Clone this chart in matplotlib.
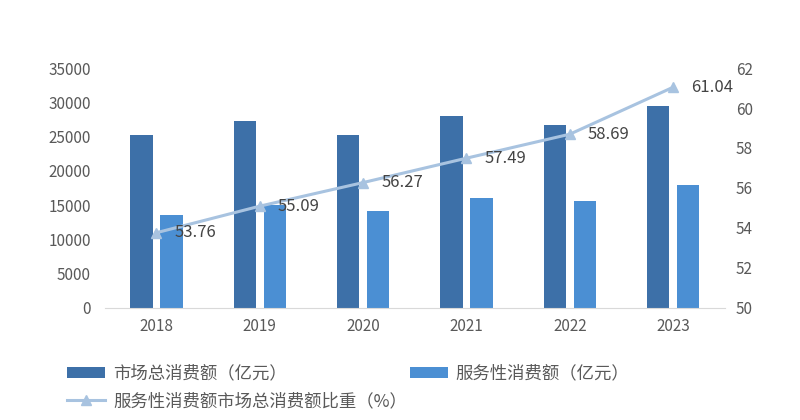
import matplotlib
matplotlib.use("Agg")
import matplotlib.pyplot as plt
import numpy as np

plt.rcParams['font.family'] = ['Noto Sans CJK SC', 'DejaVu Sans']

years = ["2018", "2019", "2020", "2021", "2022", "2023"]
total = [25200, 27200, 25200, 28000, 26700, 29400]
service = [13500, 15000, 14200, 16100, 15600, 17900]
share = [53.76, 55.09, 56.27, 57.49, 58.69, 61.04]

c_dark = "#3d70a8"
c_light = "#4b8fd3"
c_line = "#a8c3e0"
c_text = "#595959"

fig = plt.figure(figsize=(8, 4.2), dpi=100)
ax = fig.add_axes([0.131, 0.267, 0.775, 0.571])
ax2 = ax.twinx()

x = np.arange(len(years))
w = 0.215
b1 = ax.bar(x - 0.145, total, w, color=c_dark, label="市场总消费额（亿元）")
b2 = ax.bar(x + 0.145, service, w, color=c_light, label="服务性消费额（亿元）")
ln, = ax2.plot(x, share, color=c_line, lw=2.2, marker="^", ms=7,
               label="服务性消费额市场总消费额比重（%）")
for xi, v in zip(x, share):
    ax2.annotate(f"{v:.2f}", (xi, v), xytext=(13, 0), textcoords="offset points",
                 va="center", ha="left", fontsize=12, color="#444444")

ax.set_xlim(-0.5, len(years) - 0.5)
ax.set_ylim(0, 35000)
ax.set_yticks(range(0, 35001, 5000))
ax2.set_ylim(50, 62)
ax2.set_yticks(range(50, 63, 2))
ax.set_xticks(x)
ax.set_xticklabels(years)

for a in (ax, ax2):
    for s in a.spines.values():
        s.set_visible(False)
    a.tick_params(length=0, labelsize=11, colors=c_text)
ax.spines["bottom"].set_visible(True)
ax.spines["bottom"].set_color("#d9d9d9")
ax.tick_params(axis="y", pad=10)
ax.tick_params(axis="x", pad=7)
ax2.tick_params(axis="y", pad=8)

fig.legend([b1, ln, b2], [b1.get_label(), ln.get_label(), b2.get_label()],
           ncol=2, loc="upper left", bbox_to_anchor=(0.084, 0.132),
           frameon=False, fontsize=12.5, handlelength=2.2, handleheight=0.55,
           handletextpad=0.45, columnspacing=0.15, labelspacing=0.55,
           labelcolor=c_text, borderaxespad=0, borderpad=0)

fig.savefig("out.png", dpi=100)
